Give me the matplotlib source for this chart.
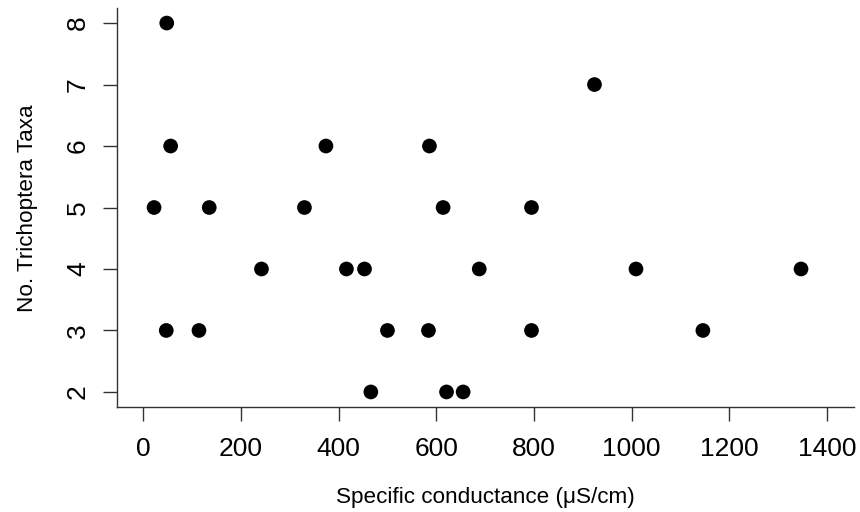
import matplotlib
matplotlib.use("Agg")
import matplotlib.pyplot as plt

plt.rcParams['font.family'] = ['Liberation Sans', 'DejaVu Sans']

# Specific conductance (uS/cm) and number of Trichoptera taxa per site
conductance = [48, 56, 22, 135, 47, 114, 242, 330, 374, 416, 453, 466,
               500, 584, 586, 614, 621, 655, 688, 795, 795, 924, 1009,
               1146, 1347]
taxa = [8, 6, 5, 5, 3, 3, 4, 5, 6, 4, 4, 2,
        3, 3, 6, 5, 2, 2, 4, 5, 3, 7, 4,
        3, 4]

x_ticks = [0, 200, 400, 600, 800, 1000, 1200, 1400]
y_ticks = [2, 3, 4, 5, 6, 7, 8]
x_label = "Specific conductance (\u03bcS/cm)"
y_label = "No. Trichoptera Taxa"

W, H = 860, 512
fig = plt.figure(figsize=(W / 100, H / 100), dpi=100)
left, right, top, bottom = 116.7, 854.0, 8.3, 406.7
ax = fig.add_axes([left / W, 1 - bottom / H, (right - left) / W, (bottom - top) / H])

ax.scatter(conductance, taxa, s=112, color='black', edgecolors='none', zorder=3)

ax.set_xlim(-54.5, 1455.5)
ax.set_ylim(1.76, 8.24)
ax.set_xticks(x_ticks)
ax.set_xticklabels([str(v) for v in x_ticks])
ax.set_yticks(y_ticks)
ax.set_yticklabels([str(v) for v in y_ticks])

line_col = '#333333'
for side in ('top', 'right'):
    ax.spines[side].set_visible(False)
for side in ('left', 'bottom'):
    ax.spines[side].set_color(line_col)
    ax.spines[side].set_linewidth(1.0)

ax.tick_params(axis='both', direction='out', length=10, width=1.0,
               color=line_col, labelsize=19, labelcolor='black')
ax.tick_params(axis='x', pad=11.5)
ax.tick_params(axis='y', pad=9.3, labelrotation=90)
for lbl in ax.get_yticklabels():
    lbl.set_verticalalignment('center')

fig.text((left + right) / 2 / W, 1 - 503.5 / H, x_label, fontsize=16.2,
         ha='center', va='baseline', rotation_mode='anchor')
fig.text(33 / W, 1 - 208 / H, y_label, fontsize=16.2, rotation=90,
         ha='center', va='baseline', rotation_mode='anchor')

fig.savefig("out.png", dpi=100, facecolor='white')
